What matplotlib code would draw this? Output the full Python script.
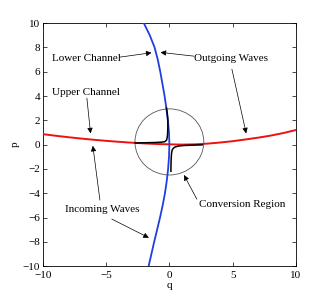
import matplotlib
matplotlib.use("Agg")
import matplotlib.pyplot as plt
from matplotlib.patches import Circle

# Red curve (upper channel): q values and p values
red_q = [-10, -9, -8, -7, -6, -5, -4, -3, -2, -1, 0, 1, 2, 3, 4, 5, 6, 7, 8, 9, 10]
red_p = [0.86, 0.73, 0.61, 0.50, 0.40, 0.31, 0.23, 0.16, 0.10, 0.05, 0.02, 0.0,
         0.02, 0.08, 0.17, 0.28, 0.42, 0.57, 0.74, 0.95, 1.2]

# Blue curve (lower channel): p values and q values
blue_p = [-10, -9, -8, -7, -6, -5, -4, -3, -2, -1, 0, 1, 2, 3, 4, 5, 6, 7, 8, 9, 10]
blue_q = [-1.64, -1.42, -1.2, -0.97, -0.74, -0.53, -0.35, -0.21, -0.1, -0.03, 0.0,
          -0.03, -0.12, -0.24, -0.38, -0.55, -0.72, -0.92, -1.17, -1.55, -2.02]

# Black curves inside conversion region
black_up_q = [-2.7, -2.0, -1.2, -0.6, -0.35, -0.22, -0.17, -0.14, -0.12, -0.12, -0.17, -0.23]
black_up_p = [0.13, 0.15, 0.17, 0.2, 0.25, 0.37, 0.6, 0.92, 1.5, 2.0, 2.6, 3.0]
black_lo_q = [0.12, 0.13, 0.15, 0.17, 0.22, 0.3, 0.45, 0.7, 1.2, 2.0, 2.6]
black_lo_p = [-2.2, -1.5, -1.0, -0.72, -0.45, -0.31, -0.2, -0.12, -0.07, -0.04, -0.02]

# Conversion region circle
circle_center = (0.0, 0.22)
circle_radius = 2.72

# Annotations: label, text position, list of (arrow start, arrow tip)
labels = ["Lower Channel", "Outgoing Waves", "Upper Channel", "Incoming Waves", "Conversion Region"]
text_pos = [(-9.29, 7.12), (1.94, 7.12), (-9.29, 4.32), (-8.26, -5.31), (2.33, -4.9)]
arrows = [
    [((-3.91, 7.2), (-1.41, 7.56))],
    [((1.94, 7.28), (-0.7, 7.59)), ((4.94, 6.21), (6.07, 0.92))],
    [((-6.52, 3.83), (-6.23, 0.92))],
    [((-5.49, -4.57), (-6.05, -0.1)), ((-4.55, -6.13), (-1.62, -7.67))],
    [((2.17, -4.49), (1.15, -2.5))],
]

plt.rcParams['font.family'] = ['Liberation Serif', 'DejaVu Serif']
plt.rcParams['axes.unicode_minus'] = True

fig = plt.figure(figsize=(3.27, 3.0), dpi=100)
ax = fig.add_axes([0.131, 0.113, 0.774, 0.81])

ax.plot(red_q, red_p, color='#ee1111', lw=1.4, zorder=3)
ax.plot(blue_q, blue_p, color='#1f3fe0', lw=1.3, zorder=3)
ax.add_patch(Circle(circle_center, circle_radius, fill=False, ec='#555555', lw=0.6, zorder=2))
ax.plot(black_up_q, black_up_p, color='black', lw=1.1, zorder=4)
ax.plot(black_lo_q, black_lo_p, color='black', lw=1.1, zorder=4)

for lab, pos, arrs in zip(labels, text_pos, arrows):
    ax.text(pos[0], pos[1], lab, fontsize=8, ha='left', va='center', zorder=5)
    for start, tip in arrs:
        ax.annotate('', xy=tip, xytext=start,
                    arrowprops=dict(arrowstyle='-|>', lw=0.5, color='black',
                                    mutation_scale=8, shrinkA=0, shrinkB=0),
                    zorder=5)

ax.set_xlim(-10, 10)
ax.set_ylim(-10, 10)
ax.set_xticks([-10, -5, 0, 5, 10])
ax.set_yticks(list(range(-10, 11, 2)))
ax.tick_params(direction='in', length=3, width=0.5, labelsize=8, top=True, right=True, pad=2)
ax.tick_params(axis='x', pad=3.5)
for s in ax.spines.values():
    s.set_linewidth(0.6)
ax.set_xlabel('q', fontsize=8, labelpad=1)
ax.set_ylabel('p', fontsize=8, labelpad=2)

fig.savefig('out.png', dpi=100)
